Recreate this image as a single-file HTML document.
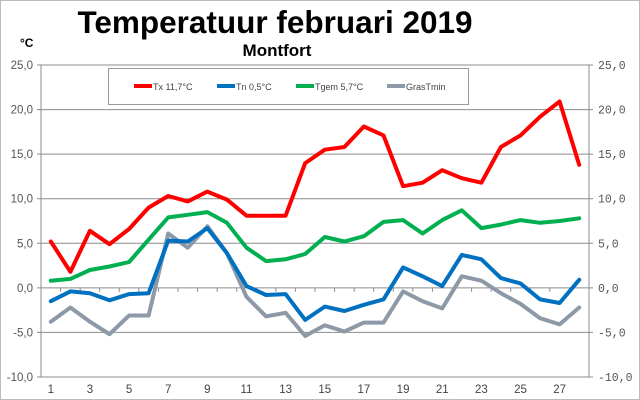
<!DOCTYPE html>
<html><head><meta charset="utf-8"><style>
html,body{margin:0;padding:0;background:#fff;}
svg{display:block;}
</style></head><body>
<svg id="c" width="640" height="400" xmlns="http://www.w3.org/2000/svg" font-family="Liberation Sans, sans-serif">
<rect x="0.5" y="0.5" width="639" height="399" fill="#fff" stroke="#bbb"/>
<text x="275" y="33" font-size="31.5" font-weight="bold" text-anchor="middle" fill="#000">Temperatuur februari 2019</text>
<text x="277" y="56" font-size="17" font-weight="bold" text-anchor="middle" fill="#000">Montfort</text>
<text x="20" y="47" font-size="12" font-weight="bold" fill="#000">°C</text>
<g id="grid"></g>
<rect x="108.5" y="68.5" width="360" height="36" fill="#fff" stroke="#999"/>
<line x1="134" y1="86" x2="152" y2="86" stroke="#f00" stroke-width="4"/>
<text x="153" y="90" font-size="9" fill="#444">Tx 11,7°C</text>
<line x1="217" y1="86" x2="235" y2="86" stroke="#0070c0" stroke-width="4"/>
<text x="236" y="90" font-size="9" fill="#444">Tn 0,5°C</text>
<line x1="296" y1="86" x2="314" y2="86" stroke="#00b050" stroke-width="4"/>
<text x="315" y="90" font-size="9" fill="#444">Tgem 5,7°C</text>
<line x1="387" y1="86" x2="405" y2="86" stroke="#8e99a8" stroke-width="4"/>
<text x="406" y="90" font-size="9" fill="#444">GrasTmin</text>
<g id="series"></g>
</svg>
<script>
var NS="http://www.w3.org/2000/svg";
var L=41,R=589,T=65,B=377;
function Y(v){return T+(25-v)*(B-T)/35;}
function X(d){return L+(d-0.5)*(R-L)/28;}
var g=document.getElementById("grid"),s=document.getElementById("series");
function el(p,tag,a,txt){var e=document.createElementNS(NS,tag);for(var k in a)e.setAttribute(k,a[k]);if(txt!=null)e.textContent=txt;p.appendChild(e);return e;}
for(var v=-10;v<=25;v+=5){var y=Y(v);
 el(g,"line",{x1:L-4,y1:y,x2:R+4,y2:y,stroke:"#8c8c8c","stroke-width":1});
 var lab=(v<0?"-":"")+Math.abs(v)+",0";
 el(g,"text",{x:L-8,y:y+4,"font-size":"11.5","text-anchor":"end",fill:"#555"},lab);
 el(g,"text",{x:R+9,y:y+4,"font-size":"11.5","font-family":"Liberation Mono, monospace",fill:"#555"},lab);
}
el(g,"line",{x1:L,y1:T,x2:L,y2:B,stroke:"#8c8c8c"});
el(g,"line",{x1:R,y1:T,x2:R,y2:B,stroke:"#8c8c8c"});
for(var i=0;i<=28;i++){var x=L+i*(R-L)/28;el(g,"line",{x1:x,y1:Y(0),x2:x,y2:Y(0)+4,stroke:"#8c8c8c"});}
for(var d=1;d<=28;d+=2)el(g,"text",{x:X(d),y:393,"font-size":"11.5","text-anchor":"middle",fill:"#444"},d);
var gras=[-3.8,-2.2,-3.8,-5.2,-3.1,-3.1,6.1,4.5,6.9,3.9,-1.0,-3.2,-2.8,-5.4,-4.2,-4.9,-3.9,-3.9,-0.4,-1.5,-2.3,1.3,0.8,-0.6,-1.8,-3.4,-4.1,-2.2];
var tn=[-1.5,-0.4,-0.6,-1.4,-0.7,-0.6,5.3,5.2,6.7,3.9,0.2,-0.8,-0.7,-3.6,-2.1,-2.6,-1.9,-1.3,2.3,1.3,0.2,3.7,3.2,1.1,0.5,-1.3,-1.7,0.9];
var tg=[0.8,1.0,2.0,2.4,2.9,5.4,7.9,8.2,8.5,7.3,4.5,3.0,3.2,3.8,5.7,5.2,5.8,7.4,7.6,6.1,7.6,8.7,6.7,7.1,7.6,7.3,7.5,7.8];
var tx=[5.2,1.8,6.4,4.9,6.6,9.0,10.3,9.7,10.8,9.9,8.1,8.1,8.1,14.0,15.5,15.8,18.1,17.1,11.4,11.8,13.2,12.3,11.8,15.8,17.1,19.2,20.9,13.8];
[[gras,"#8e99a8"],[tn,"#0070c0"],[tg,"#00b050"],[tx,"#ff0000"]].forEach(function(p){
 var pts=p[0].map(function(v,i){return X(i+1).toFixed(1)+","+Y(v).toFixed(1);}).join(" ");
 el(s,"polyline",{points:pts,fill:"none",stroke:p[1],"stroke-width":4,"stroke-linejoin":"round","stroke-linecap":"round"});
});
</script>
</body></html>
